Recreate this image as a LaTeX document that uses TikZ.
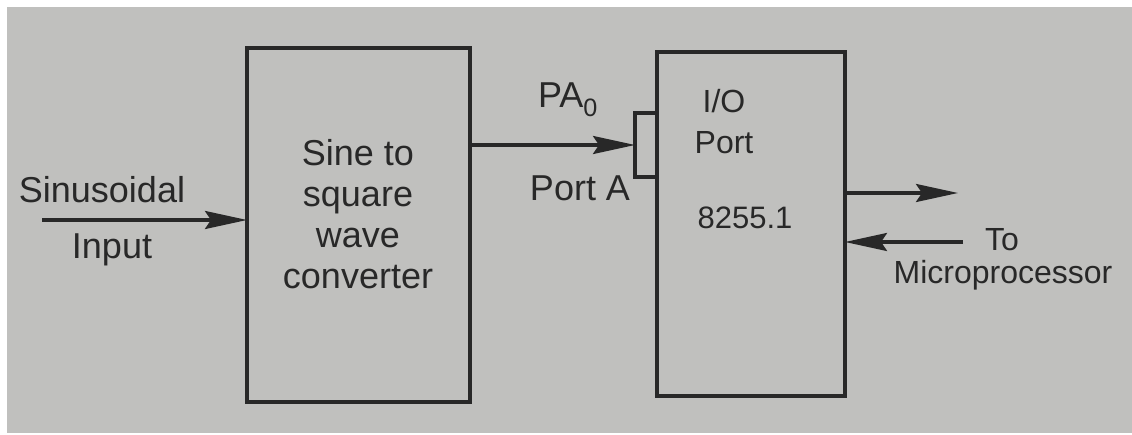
\documentclass[tikz,border=0pt]{standalone}
\usepackage{fontspec}
\setmainfont{Liberation Sans}
\usetikzlibrary{arrows.meta}
\definecolor{bg}{RGB}{192,192,190}
\definecolor{ink}{RGB}{40,40,40}
\begin{document}
\begin{tikzpicture}[x=1pt,y=-1pt,
  blk/.style={draw=ink,line width=3.5pt,fill=bg,inner sep=0pt,outer sep=0pt},
  lbl/.style={text=ink,inner sep=0pt,align=center},
  big/.style={font=\fontsize{36}{41}\selectfont},
  small/.style={font=\fontsize{32}{36}\selectfont},
  conn/.style={draw=ink,line width=3.2pt,-{Stealth[length=42pt,width=18pt,inset=6pt]}}]
% background
\fill[white] (0,0) rectangle (1132,435);
\fill[bg] (7,7) rectangle (1132,433);
\useasboundingbox (0,0) rectangle (1132,435);
% blocks
\node[blk,minimum width=223pt,minimum height=354pt] (conv) at (358.5,225) {};
\node[blk,minimum width=188pt,minimum height=344pt] (io) at (751,224) {};
\node[blk,minimum width=22pt,minimum height=64pt] (porta) at (646,145) {};
% texts
\node[lbl,big] (convtxt) at (358,214) {Sine to\\square\\wave\\converter};
\node[lbl,font=\fontsize{32}{41}\selectfont] (iotxt) at (724,122) {I/O\\Port};
\node[lbl,font=\fontsize{31}{36}\selectfont] (num) at (745,218) {8255.1};
\node[lbl,big] (pa) at (568,100) {PA\textsubscript{0}};
\node[lbl,big] (portlbl) at (580,188) {Port A};
\node[lbl,big] (sin) at (102,190) {Sinusoidal};
\node[lbl,big] (inp) at (112,250) {Input};
\node[lbl,small] (to) at (1002,240) {To};
\node[lbl,small] (micro) at (1003,275) {Microprocessor};
% free ends
\coordinate (inS) at (42,220);
\coordinate (outE) at (958,193);
\coordinate (inE) at (963,242);
% connectors
\draw[conn] (inS) -- (inS -| conv.west);
\draw[conn] (conv.east |- porta.west) -- (porta.west);
\draw[conn] (io.east |- outE) -- (outE);
\draw[conn] (inE) -- (inE -| io.east);
\end{tikzpicture}
\end{document}
